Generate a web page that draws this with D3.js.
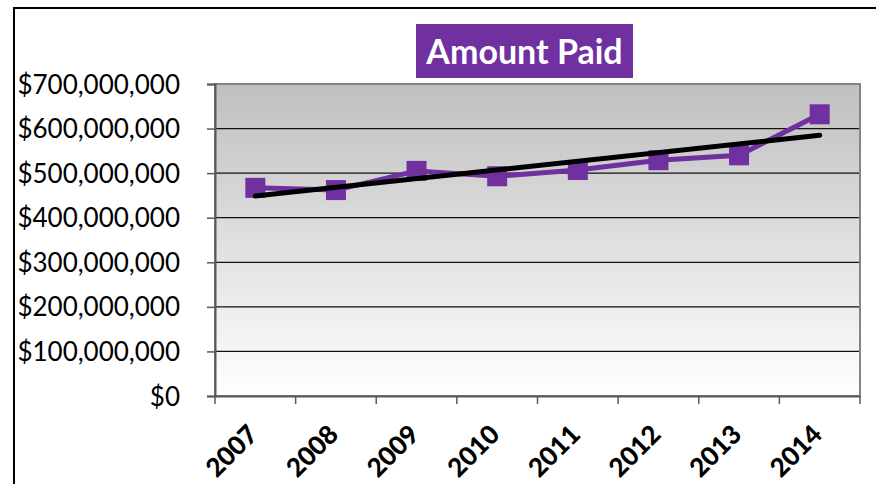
<!DOCTYPE html>
<html>
<head>
<meta charset="utf-8">
<script src="https://cdn.jsdelivr.net/npm/d3@7"></script>
<style>
  html, body { margin: 0; padding: 0; background: #fff; }
  svg { display: block; }
  text { font-family: Lato, "Open Sans", sans-serif; }
</style>
</head>
<body>
<div id="chart"></div>
<script>
// ---- data ----
const years = ["2007", "2008", "2009", "2010", "2011", "2012", "2013", "2014"];
const amountPaid = [467000000, 462000000, 505000000, 493000000, 507000000, 529000000, 540000000, 632000000];
const yTickValues = [0, 100000000, 200000000, 300000000, 400000000, 500000000, 600000000, 700000000];
const chartTitle = "Amount Paid";

// ---- layout ----
const W = 876, H = 484;
const plot = { left: 215, right: 860, top: 84, bottom: 396 };

const svg = d3.select("#chart").append("svg").attr("width", W).attr("height", H);

// outer frame
svg.append("rect").attr("x", 14).attr("y", 8).attr("width", W + 20).attr("height", H + 20)
  .attr("fill", "none").attr("stroke", "#000").attr("stroke-width", 2);

const x = d3.scaleBand().domain(years).range([plot.left, plot.right]).padding(0);
const y = d3.scaleLinear().domain([0, 700000000]).range([plot.bottom, plot.top]);

// gradient background
const defs = svg.append("defs");
const grad = defs.append("linearGradient").attr("id", "bg").attr("x1", 0).attr("y1", 0).attr("x2", 0).attr("y2", 1);
grad.append("stop").attr("offset", "0%").attr("stop-color", "#bfbfbf");
grad.append("stop").attr("offset", "100%").attr("stop-color", "#ffffff");

svg.append("rect").attr("x", plot.left).attr("y", plot.top)
  .attr("width", plot.right - plot.left).attr("height", plot.bottom - plot.top)
  .attr("fill", "url(#bg)");

// gridlines
svg.append("g").selectAll("line").data(yTickValues.filter(v => v > 0 && v < 700000000)).join("line")
  .attr("x1", plot.left).attr("x2", plot.right)
  .attr("y1", d => y(d)).attr("y2", d => y(d))
  .attr("stroke", "#111").attr("stroke-width", 1.2);

// plot border (gray)
svg.append("rect").attr("x", plot.left).attr("y", plot.top)
  .attr("width", plot.right - plot.left).attr("height", plot.bottom - plot.top)
  .attr("fill", "none").attr("stroke", "#858585").attr("stroke-width", 2);

// y axis
const fmt = v => "$" + d3.format(",")(v);
const yAxis = svg.append("g").attr("transform", `translate(${plot.left},0)`)
  .call(d3.axisLeft(y).tickValues(yTickValues).tickFormat(fmt).tickSize(8).tickPadding(27));
yAxis.select(".domain").attr("stroke", "#595959").attr("stroke-width", 2);
yAxis.selectAll(".tick line").attr("stroke", "#595959").attr("stroke-width", 1.5);
yAxis.selectAll(".tick text").attr("font-size", 26).attr("fill", "#000")
  .attr("font-family", "Lato, sans-serif").attr("dy", "0.35em");

// x axis labels (centered on bands)
const xAxis = svg.append("g").attr("transform", `translate(0,${plot.bottom})`)
  .call(d3.axisBottom(x).tickSize(0).tickPadding(0));
xAxis.select(".domain").attr("stroke", "#595959").attr("stroke-width", 2);
xAxis.selectAll(".tick text")
  .attr("font-size", 26).attr("font-weight", 900).attr("fill", "#000")
  .attr("font-family", "Lato, sans-serif")
  .attr("text-anchor", "end").attr("dy", 0).attr("y", 0)
  .attr("transform", "translate(4,40) rotate(-45)");

// x tick marks at band boundaries
const boundaries = years.map(d => x(d)).concat([x.range()[1]]);
svg.append("g").selectAll("line").data(boundaries).join("line")
  .attr("x1", d => d).attr("x2", d => d)
  .attr("y1", plot.bottom).attr("y2", plot.bottom + 8)
  .attr("stroke", "#595959").attr("stroke-width", 1.5);

// data line
const pts = years.map((yr, i) => ({ yr, v: amountPaid[i] }));
const cx = d => x(d.yr) + x.bandwidth() / 2;
svg.append("path").datum(pts)
  .attr("fill", "none").attr("stroke", "#7030a0").attr("stroke-width", 5)
  .attr("d", d3.line().x(cx).y(d => y(d.v)));

// markers
const ms = 20;
svg.append("g").selectAll("rect").data(pts).join("rect")
  .attr("x", d => cx(d) - ms / 2).attr("y", d => y(d.v) - ms / 2)
  .attr("width", ms).attr("height", ms)
  .attr("fill", "#7030a0");

// linear trendline (least squares over the data)
const n = amountPaid.length;
const xs = d3.range(n);
const mx = d3.mean(xs), my = d3.mean(amountPaid);
const slope = d3.sum(xs, i => (i - mx) * (amountPaid[i] - my)) / d3.sum(xs, i => (i - mx) ** 2);
const intercept = my - slope * mx;
const trend = [0, n - 1].map(i => ({ yr: years[i], v: intercept + slope * i }));
svg.append("path").datum(trend)
  .attr("fill", "none").attr("stroke", "#000").attr("stroke-width", 5)
  .attr("stroke-linecap", "round")
  .attr("d", d3.line().x(cx).y(d => y(d.v)));

// title
const tg = svg.append("g");
tg.append("rect").attr("x", 416).attr("y", 24).attr("width", 217).attr("height", 54).attr("fill", "#7030a0");
tg.append("text").attr("x", 524.5).attr("y", 63.5).attr("text-anchor", "middle")
  .attr("font-size", 34).attr("font-weight", "bold").attr("fill", "#fff")
  .text(chartTitle);
</script>
</body>
</html>
